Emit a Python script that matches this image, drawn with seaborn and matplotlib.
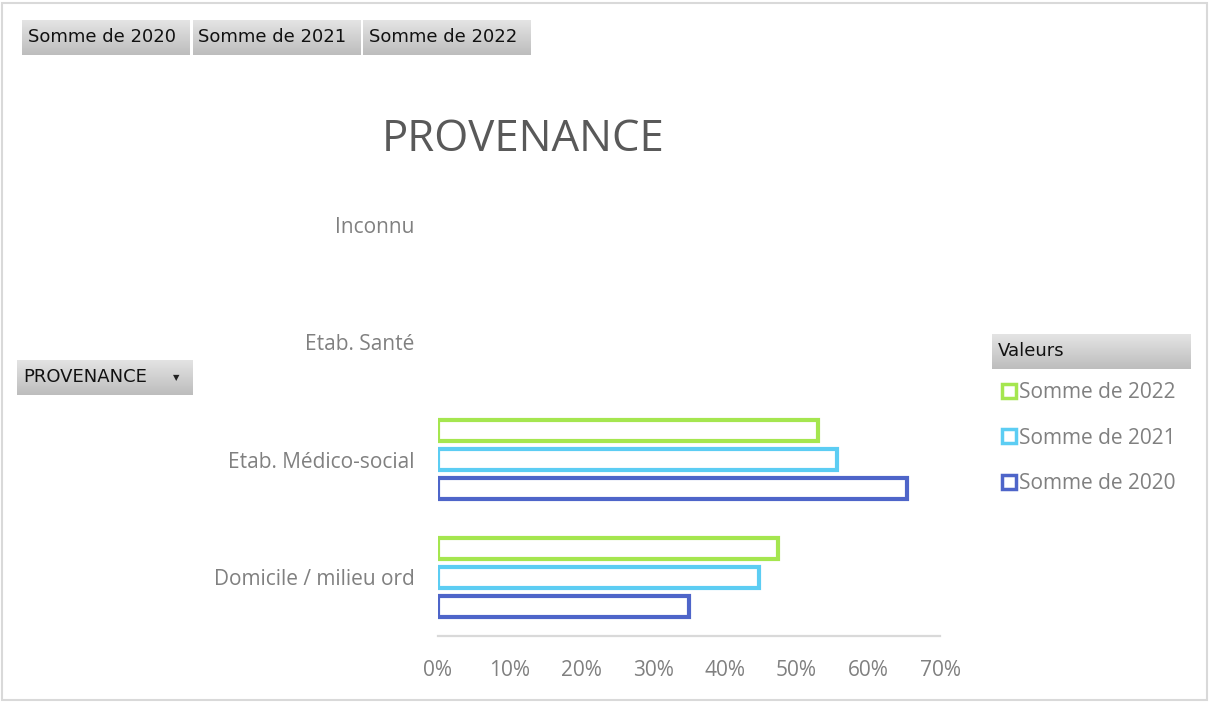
import numpy as np
import pandas as pd
import matplotlib
matplotlib.use("Agg")
import matplotlib.pyplot as plt
from matplotlib.colors import LinearSegmentedColormap
from matplotlib.lines import Line2D
from matplotlib.patches import Rectangle
import seaborn as sns

categories = ["Inconnu", "Etab. Santé", "Etab. Médico-social", "Domicile / milieu ord"]
somme_2020 = [None, None, 0.654, 0.350]
somme_2021 = [None, None, 0.556, 0.448]
somme_2022 = [None, None, 0.530, 0.474]
series_names = ["Somme de 2022", "Somme de 2021", "Somme de 2020"]
series_colors = ["#A5E64F", "#5CCDF3", "#4E65C9"]
x_ticks = [0, 0.1, 0.2, 0.3, 0.4, 0.5, 0.6, 0.7]
field_buttons = ["Somme de 2020", "Somme de 2021", "Somme de 2022"]

W, H = 1210, 702
FONT = "Open Sans"

rows = []
for name, values in zip(["Somme de 2020", "Somme de 2021", "Somme de 2022"],
                        [somme_2020, somme_2021, somme_2022]):
    for cat, v in zip(categories, values):
        rows.append({"cat": cat, "serie": name, "val": np.nan if v is None else v})
df = pd.DataFrame(rows).dropna()

sns.set_theme(style="white")
plt.rcParams["font.family"] = [FONT, "DejaVu Sans"]

fig = plt.figure(figsize=(W / 100, H / 100), dpi=100)
ax = fig.add_axes([438 / W, (H - 636) / H, (940 - 438) / W, (636 - 166) / H])

sns.barplot(
    data=df, y="cat", x="val", hue="serie",
    order=categories, hue_order=series_names,
    palette=dict(zip(series_names, series_colors)),
    orient="h", fill=False, width=0.735, gap=0.27,
    linewidth=3.0, errorbar=None, legend=False, ax=ax,
)

ax.set_xlim(0, 0.7)
ax.set_ylim(len(categories) - 0.5, -0.5)
ax.set_xticks(x_ticks)
ax.set_xticklabels([f"{int(round(t * 100))}%" for t in x_ticks])
ax.set_xlabel("")
ax.set_ylabel("")
for side in ["top", "right", "left"]:
    ax.spines[side].set_visible(False)
ax.spines["bottom"].set_color("#D9D9D9")
ax.spines["bottom"].set_linewidth(1.6)
ax.tick_params(axis="x", length=0, pad=17, labelsize=15, labelcolor="#808080")
ax.tick_params(axis="y", length=0, pad=17, labelsize=15, labelcolor="#808080")

fig.text(523 / W, 1 - 140 / H, "PROVENANCE", ha="center", va="center",
         fontsize=31.5, color="#595959")

# legend
handles = [
    Line2D([], [], linestyle="none", marker="s", markersize=10,
           markerfacecolor="white", markeredgecolor=c, markeredgewidth=2.5)
    for c in series_colors
]
leg = fig.legend(handles, series_names, loc="upper left",
                 bbox_to_anchor=(992 / W, 1 - 374 / H), frameon=False,
                 fontsize=15, labelcolor="#808080", handlelength=0.8,
                 handletextpad=0.1, labelspacing=1.17, borderaxespad=0)

# pivot field buttons
cmap = LinearSegmentedColormap.from_list("btn", ["#E4E4E4", "#BDBDBD"])


def draw_button(x0, y0, w, h, label, arrow=False):
    bax = fig.add_axes([x0 / W, 1 - (y0 + h) / H, w / W, h / H])
    bax.imshow(np.linspace(0, 1, 60).reshape(-1, 1), cmap=cmap, aspect="auto",
               extent=[0, 1, 0, 1], origin="upper")
    bax.set_xlim(0, 1)
    bax.set_ylim(0, 1)
    bax.axis("off")
    bax.text(6 / w, 0.5, label, ha="left", va="center", fontsize=13,
             color="#111111", family=["DejaVu Sans"], transform=bax.transAxes)
    if arrow:
        bax.text(1 - 17 / w, 0.5, "▼", ha="center", va="center", fontsize=6,
                 color="#222222", family=["DejaVu Sans"], transform=bax.transAxes)


for i, lab in enumerate(field_buttons):
    draw_button(22 + i * 170.5, 20, 168, 35, lab)
draw_button(17, 360, 176, 35, "PROVENANCE", arrow=True)
draw_button(992, 334, 199, 35, "Valeurs")

fig.patches.append(Rectangle((2 / W, 2 / H), (W - 5) / W, (H - 5) / H,
                             transform=fig.transFigure, fill=False,
                             edgecolor="#D9D9D9", linewidth=1.5))

fig.savefig("out.png", dpi=100)
